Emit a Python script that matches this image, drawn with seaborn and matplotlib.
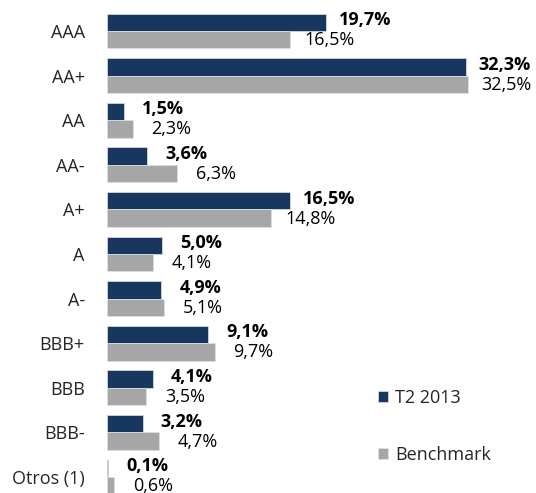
import pandas as pd
import matplotlib.pyplot as plt
import seaborn as sns

ratings = ['AAA', 'AA+', 'AA', 'AA-', 'A+', 'A', 'A-', 'BBB+', 'BBB', 'BBB-', 'Otros (1)']
t2_2013 = [19.7, 32.3, 1.5, 3.6, 16.5, 5.0, 4.9, 9.1, 4.1, 3.2, 0.1]
benchmark = [16.5, 32.5, 2.3, 6.3, 14.8, 4.1, 5.1, 9.7, 3.5, 4.7, 0.6]
series = ['T2 2013', 'Benchmark']
colors = ['#17375E', '#A6A6A6']

df = pd.DataFrame({
    'rating': ratings * 2,
    'valor': t2_2013 + benchmark,
    'serie': [series[0]] * len(ratings) + [series[1]] * len(ratings),
})

sns.set_style('white')
plt.rcParams['font.family'] = ['Open Sans', 'DejaVu Sans']
fs = 13

fig = plt.figure(figsize=(5.36, 4.93), dpi=100)
ax = fig.add_axes([107 / 536, 0, 429 / 536, 1])

sns.barplot(data=df, x='valor', y='rating', hue='serie', orient='h',
            palette=colors, saturation=1, width=0.78, order=ratings,
            hue_order=series, edgecolor='#DDE3EA', linewidth=0.5, ax=ax)

ax.set_xlim(0, 38.65)
ax.set_ylim(10.36, -0.695)

# etiquetas: texto centrado en una caja de ancho fijo tras el extremo de la barra
for i, cont in enumerate(ax.containers):
    for bar, v in zip(cont, [t2_2013, benchmark][i]):
        y = bar.get_y() + bar.get_height() / 2
        txt = f'{v:.1f}%'.replace('.', ',')
        if i == 0:
            ax.annotate(txt, (bar.get_width(), y), xytext=(39, 2), textcoords='offset pixels',
                        ha='center', va='center', fontsize=fs, fontweight='bold', color='black')
        else:
            ax.annotate(txt, (bar.get_width(), y), xytext=(39, -0.5), textcoords='offset pixels',
                        ha='center', va='center', fontsize=fs, color='black')

ax.set_xlabel('')
ax.set_ylabel('')
ax.set_xticks([])
ax.tick_params(axis='y', length=0, pad=16, labelsize=fs)
for s in ax.spines.values():
    s.set_visible(False)

ax.legend(loc='upper left', bbox_to_anchor=(378 / 536, 1 - 389 / 493),
          bbox_transform=fig.transFigure, frameon=False, fontsize=fs,
          handlelength=0.55, handleheight=0.55, handletextpad=0.4,
          labelspacing=2.15, borderaxespad=0, borderpad=0)

fig.savefig('out.png', dpi=100)
